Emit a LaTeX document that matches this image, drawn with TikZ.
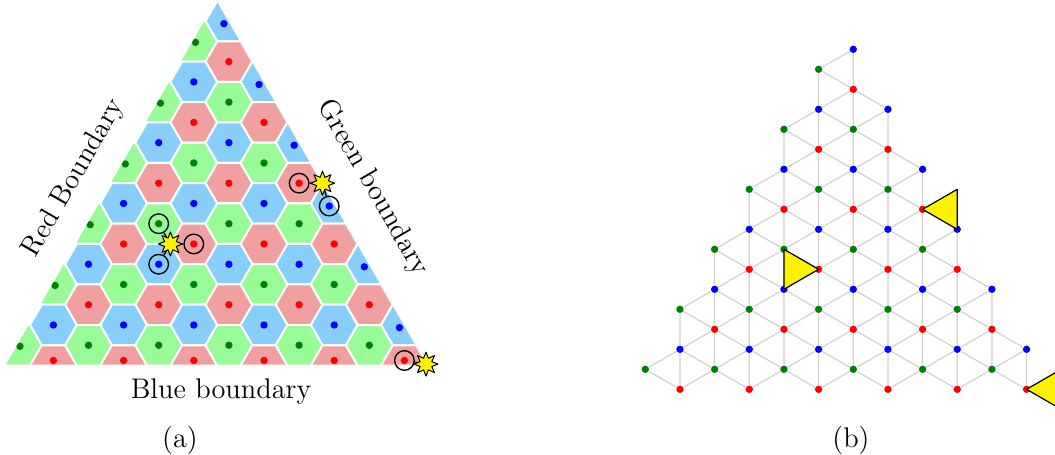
\documentclass[tikz,border=0pt]{standalone}
\usetikzlibrary{shapes.geometric}
\definecolor{hexred}{RGB}{240,160,160}
\definecolor{hexgreen}{RGB}{152,251,152}
\definecolor{hexblue}{RGB}{135,206,250}
\definecolor{dkgreen}{RGB}{0,128,0}
\begin{document}
\begin{tikzpicture}[x=0.5pt,y=-0.5pt,line join=round,font=\fontsize{14.2}{17}\selectfont,
	dot/.style={circle,inner sep=0pt,minimum size=3.7pt,fill=#1},
	ring/.style={circle,draw,line width=0.67pt,inner sep=0pt,minimum size=9.8pt},
	flipstar/.style={star,star points=8,star point ratio=1.9,inner sep=0pt,minimum size=12pt,fill=yellow,draw,line width=0.5pt},
	link/.style={black!18,line width=0.6pt},
	tri/.style={fill=yellow,draw,line width=0.6pt},
	hexa/.style={shift={(18.3,21.1)},x={(17.55pt,0pt)},y={(0pt,-10.13pt)}},
	hexb/.style={shift={(645.3,49.3)},x={(17.33pt,0pt)},y={(0pt,-10pt)}}]
	\useasboundingbox (0,0) rectangle (1055,455);
	\begin{scope}
	\clip (6,364.5)--(216.25,0.4)--(426.5,364.5)--cycle;
	\begin{scope}[hexa]
	\foreach \k in {0,...,5} \foreach \j in {0,...,\k} \foreach \dc/\dr/\col in {0/0/hexblue,-1/1/hexgreen,0/2/hexred}
		\fill[\col,draw=white,line width=1pt] ({6-\k+2*\j+\dc},{3*\k+\dr}) +(2/3,0)--+(1/3,-1)--+(-1/3,-1)--+(-2/3,0)--+(-1/3,1)--+(1/3,1)--cycle;
	\foreach \k in {0,...,5} \foreach \j in {0,...,\k}{
		\pgfmathsetmacro{\xb}{6-\k+2*\j-0.142*(\j==\k)}
		\pgfmathsetmacro{\yb}{3*\k+0.128*(\j==\k)}
		\pgfmathsetmacro{\xg}{5-\k+2*\j+0.048*(\j==0)}
		\pgfmathsetmacro{\yg}{3*\k+1+0.05*(\j==0)}
		\pgfmathsetmacro{\yr}{3*\k+2-0.25*(\k==5)}
		\node[dot=blue] (lb\k-\j) at (\xb,\yb) {};
		\node[dot=dkgreen] (lg\k-\j) at (\xg,\yg) {};
		\node[dot=red] (lr\k-\j) at ({6-\k+2*\j},\yr) {};
	}
	\end{scope}
	\end{scope}
	\begin{scope}[hexa]
	\coordinate (q1) at (13/3,11);
	\coordinate (q2) at (26/3,8);
	\coordinate (q3) at (11.615,16.93);
	\end{scope}
	\foreach \d in {lg3-1,lr3-1,lb4-1,lr2-2,lb3-3,lr5-5} \node[ring] (o\d) at (\d) {};
	\draw[line width=0.67pt] (q1)--(olg3-1) (q1)--(olr3-1) (q1)--(olb4-1) (q2)--(olr2-2) (q2)--(olb3-3) (q3)--(olr5-5);
	\foreach \q in {q1,q2,q3} \node[flipstar] (s\q) at (\q) {};
	\node[rotate=60] (redb) at (74,178) {Red Boundary};
	\node[rotate=-60] (greenb) at (373,188) {Green boundary};
	\node[anchor=base] (blueb) at (221,398) {Blue boundary};
	\node[anchor=base] (capa) at (180,447) {(a)};
	\node[anchor=base] (capb) at (851,447) {(b)};
	\begin{scope}[hexb]
	\foreach \k in {0,...,5} \foreach \j in {0,...,\k}{
		\node[dot=blue] (B\k-\j) at ({6-\k+2*\j},{3*\k}) {};
		\node[dot=dkgreen] (G\k-\j) at ({5-\k+2*\j},{3*\k+1}) {};
		\node[dot=red] (R\k-\j) at ({6-\k+2*\j},{3*\k+2}) {};
	}
	\foreach \k in {0,...,5} \foreach \j in {0,...,\k}{
		\pgfmathtruncatemacro{\jn}{\j+1}
		\pgfmathtruncatemacro{\jp}{\j-1}
		\pgfmathtruncatemacro{\kn}{\k+1}
		\draw[link] (B\k-\j)--(G\k-\j) (B\k-\j)--(R\k-\j) (G\k-\j)--(R\k-\j);
		\ifnum\j<\k \draw[link] (B\k-\j)--(G\k-\jn); \fi
		\ifnum\j>0 \draw[link] (G\k-\j)--(R\k-\jp); \fi
		\ifnum\k<5 \draw[link] (G\k-\j)--(B\kn-\j) (R\k-\j)--(B\kn-\j) (R\k-\j)--(B\kn-\jn) (R\k-\j)--(G\kn-\jn); \fi
	}
	\coordinate (t2) at (9,7);
	\coordinate (t3a) at (12,16);
	\coordinate (t3b) at (12,18);
	\draw[tri] (G3-1.center)--(R3-1.center)--(B4-1.center)--cycle;
	\draw[tri] (R2-2.center)--(t2)--(B3-3.center)--cycle;
	\draw[tri] (R5-5.center)--(t3a)--(t3b)--cycle;
	\end{scope}
\end{tikzpicture}
\end{document}
